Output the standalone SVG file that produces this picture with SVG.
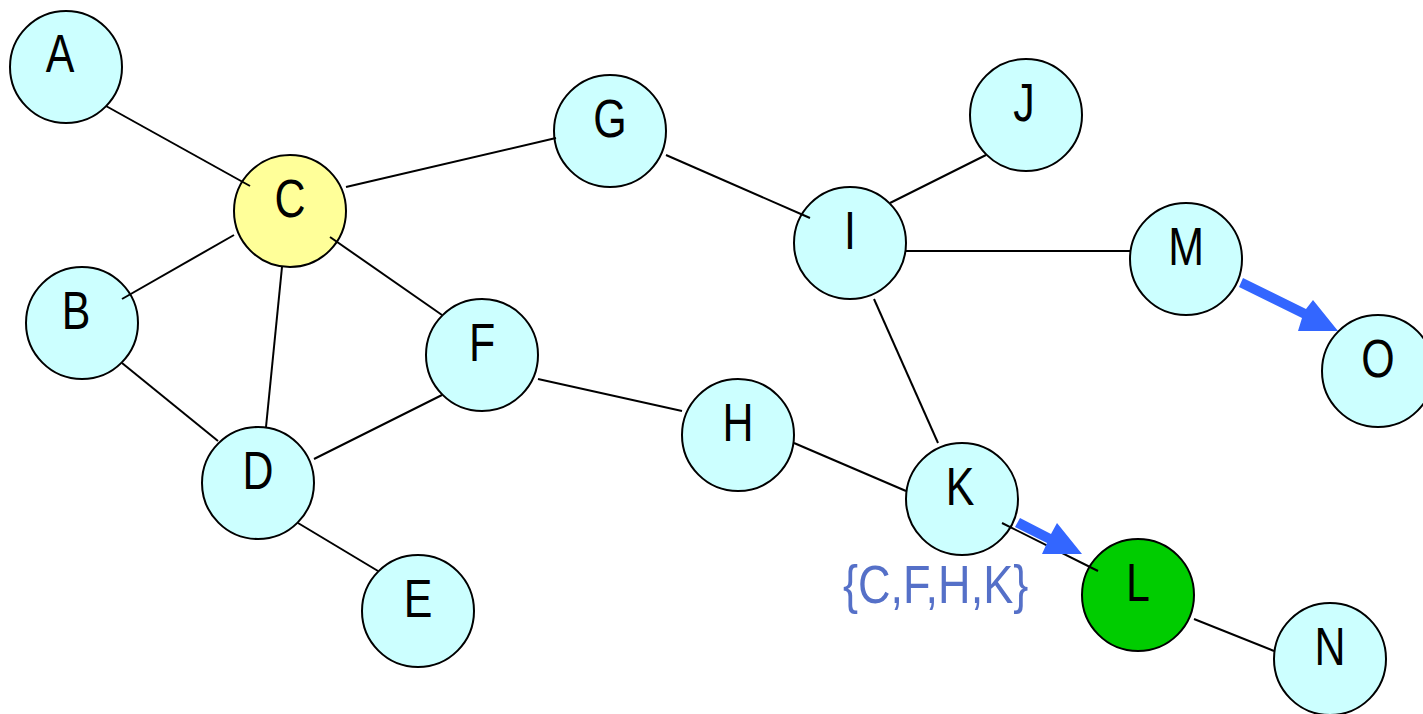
<svg xmlns="http://www.w3.org/2000/svg" width="1423" height="714" viewBox="0 0 1423 714">
<style>
.n{fill:#CCFFFF;stroke:#000;stroke-width:2}
.t{font-family:"Liberation Sans",Arial,sans-serif;font-size:53px;fill:#000;text-anchor:middle}
.e{stroke:#000;stroke-width:2;fill:none}
.a{fill:#3366FF}
</style>
<rect width="1423" height="714" fill="#fff"/>
<g id="A"><circle class="n" cx="66" cy="67" r="56"/><text class="t" transform="translate(60,72) scale(0.81,1)">A</text></g>
<g id="C"><circle class="n" cx="290" cy="211" r="56" style="fill:#FFFF99"/><text class="t" transform="translate(290,217) scale(0.81,1)">C</text></g>
<g id="G"><circle class="n" cx="610" cy="131" r="56"/><text class="t" transform="translate(610,137) scale(0.81,1)">G</text></g>
<g id="J"><circle class="n" cx="1026" cy="115" r="56"/><text class="t" transform="translate(1024,121) scale(0.81,1)">J</text></g>
<g id="I"><circle class="n" cx="850" cy="243" r="56"/><text class="t" transform="translate(850,249) scale(0.81,1)">I</text></g>
<g id="M"><circle class="n" cx="1186" cy="259" r="56"/><text class="t" transform="translate(1186,265) scale(0.81,1)">M</text></g>
<g id="O"><circle class="n" cx="1378" cy="371" r="56"/><text class="t" transform="translate(1378,377) scale(0.81,1)">O</text></g>
<g id="B"><circle class="n" cx="82" cy="323" r="56"/><text class="t" transform="translate(76,329) scale(0.81,1)">B</text></g>
<g id="F"><circle class="n" cx="482" cy="355" r="56"/><text class="t" transform="translate(482,361) scale(0.81,1)">F</text></g>
<g id="H"><circle class="n" cx="738" cy="435" r="56"/><text class="t" transform="translate(738,441) scale(0.81,1)">H</text></g>
<g id="K"><circle class="n" cx="962" cy="499" r="56"/><text class="t" transform="translate(960,505) scale(0.81,1)">K</text></g>
<g id="L"><circle class="n" cx="1138" cy="595" r="56" style="fill:#00CC00"/><text class="t" transform="translate(1138,601) scale(0.81,1)">L</text></g>
<g id="N"><circle class="n" cx="1330" cy="659" r="56"/><text class="t" transform="translate(1330,665) scale(0.81,1)">N</text></g>
<g id="D"><circle class="n" cx="258" cy="483" r="56"/><text class="t" transform="translate(258,489) scale(0.81,1)">D</text></g>
<g id="E"><circle class="n" cx="418" cy="611" r="56"/><text class="t" transform="translate(418,617) scale(0.81,1)">E</text></g>
<g id="label"><text transform="translate(843,603) scale(0.85,1)" style="font-family:'Liberation Sans',Arial,sans-serif;font-size:53px;fill:#5570C8">{C,F,H,K}</text></g>
<g id="connectors">
<line class="e" x1="106" y1="106" x2="250" y2="186"/>
<line class="e" x1="346" y1="187" x2="556" y2="138"/>
<line class="e" x1="666" y1="155" x2="810" y2="218"/>
<line class="e" x1="890" y1="203" x2="986" y2="155"/>
<line class="e" x1="906" y1="251" x2="1130" y2="251"/>
<line class="e" x1="874" y1="299" x2="938" y2="443"/>
<line class="e" x1="234" y1="235" x2="122" y2="299"/>
<line class="e" x1="282" y1="267" x2="266" y2="427"/>
<line class="e" x1="330" y1="237" x2="442" y2="315"/>
<line class="e" x1="122" y1="363" x2="218" y2="441"/>
<line class="e" x1="314" y1="459" x2="442" y2="395"/>
<line class="e" x1="538" y1="379" x2="682" y2="411"/>
<line class="e" x1="794" y1="443" x2="906" y2="491"/>
<line class="e" x1="1002" y1="523" x2="1098" y2="571"/>
<line class="e" x1="298" y1="523" x2="378" y2="571"/>
<line class="e" x1="1194" y1="619" x2="1274" y2="651"/>
<polygon class="a" points="1020,518 1051,534 1057,523 1082,554 1042,554 1047,543 1015,527"/>
<polygon class="a" points="1243,278 1306,309 1313,300 1338,331 1298,331 1302,318 1239,287"/>
</g>
</svg>
